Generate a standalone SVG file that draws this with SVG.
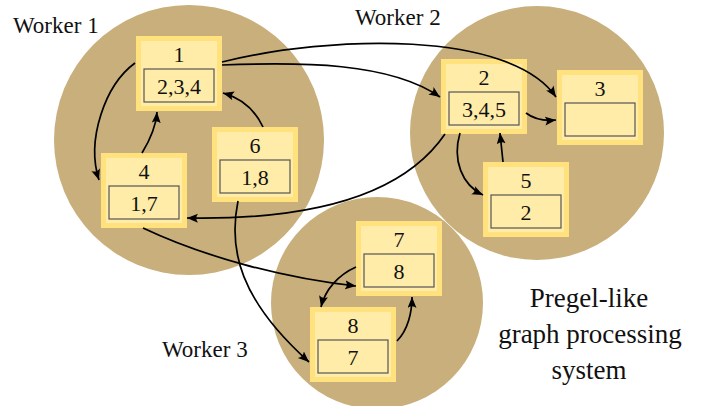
<svg xmlns="http://www.w3.org/2000/svg" width="710" height="406" viewBox="0 0 710 406">
<style>
text{font-family:"Liberation Serif","Times New Roman",serif;fill:#111}
.worker{fill:#C8AF7B}
.wl{font-size:23px}
.outer{fill:#FFE17D}
.inner{fill:#FFECA8}
.val{fill:#FFECA8;stroke:#555;stroke-width:1.2}
.t{font-size:22px;text-anchor:middle}
.cap{font-size:27px;text-anchor:middle}
.e{fill:none;stroke:#000;stroke-width:1.7;marker-end:url(#ah)}
</style>
<defs>
<marker id="ah" markerUnits="userSpaceOnUse" markerWidth="13" markerHeight="10" refX="11" refY="4.5" orient="auto">
<path d="M0,0 L11,4.5 L0,9 Q3.5,4.5 0,0 Z" fill="#000"/>
</marker>
</defs>
<g id="workers">
<circle class="worker" cx="189" cy="140" r="135"/>
<circle class="worker" cx="537" cy="133" r="127"/>
<circle class="worker" cx="377" cy="303" r="106"/>
<text class="wl" x="13" y="33">Worker 1</text>
<text class="wl" x="355" y="25">Worker 2</text>
<text class="wl" x="162" y="357">Worker 3</text>
</g>
<g id="n1" transform="translate(136,36)">
<rect class="outer" width="86" height="75"/><rect class="inner" x="5" y="5" width="76" height="65"/>
<rect class="val" x="8" y="33" width="70" height="33"/>
<text class="t" x="43" y="26">1</text><text class="t" x="43" y="58">2,3,4</text>
</g>
<g id="n2" transform="translate(441,59)">
<rect class="outer" width="86" height="75"/><rect class="inner" x="5" y="5" width="76" height="65"/>
<rect class="val" x="8" y="33" width="70" height="33"/>
<text class="t" x="43" y="26">2</text><text class="t" x="43" y="58">3,4,5</text>
</g>
<g id="n3" transform="translate(557,70)">
<rect class="outer" width="86" height="75"/><rect class="inner" x="5" y="5" width="76" height="65"/>
<rect class="val" x="8" y="33" width="70" height="33"/>
<text class="t" x="43" y="26">3</text>
</g>
<g id="n4" transform="translate(101,153)">
<rect class="outer" width="86" height="75"/><rect class="inner" x="5" y="5" width="76" height="65"/>
<rect class="val" x="8" y="33" width="70" height="33"/>
<text class="t" x="43" y="26">4</text><text class="t" x="43" y="58">1,7</text>
</g>
<g id="n5" transform="translate(483,162)">
<rect class="outer" width="86" height="75"/><rect class="inner" x="5" y="5" width="76" height="65"/>
<rect class="val" x="8" y="33" width="70" height="33"/>
<text class="t" x="43" y="26">5</text><text class="t" x="43" y="58">2</text>
</g>
<g id="n6" transform="translate(212,127)">
<rect class="outer" width="86" height="75"/><rect class="inner" x="5" y="5" width="76" height="65"/>
<rect class="val" x="8" y="33" width="70" height="33"/>
<text class="t" x="43" y="26">6</text><text class="t" x="43" y="58">1,8</text>
</g>
<g id="n7" transform="translate(356,221)">
<rect class="outer" width="86" height="75"/><rect class="inner" x="5" y="5" width="76" height="65"/>
<rect class="val" x="8" y="33" width="70" height="33"/>
<text class="t" x="43" y="26">7</text><text class="t" x="43" y="58">8</text>
</g>
<g id="n8" transform="translate(310,307)">
<rect class="outer" width="86" height="75"/><rect class="inner" x="5" y="5" width="76" height="65"/>
<rect class="val" x="8" y="33" width="70" height="33"/>
<text class="t" x="43" y="26">8</text><text class="t" x="43" y="58">7</text>
</g>
<g id="edges">
<path class="e" d="M135,63 C105,85 86,140 99,180"/>
<path class="e" d="M142,153 C150,140 156,126 157,112"/>
<path class="e" d="M263,127 C255,110 241,98 223,93"/>
<path class="e" d="M222,62 C330,35 510,30 556,97"/>
<path class="e" d="M222,65 C300,62 390,62 440,97"/>
<path class="e" d="M526,113 C535,120 545,121 556,120"/>
<path class="e" d="M460,133 C452,160 462,185 483,195"/>
<path class="e" d="M503,162 C502,152 501,142 500,133"/>
<path class="e" d="M445,134 C400,200 300,220 187,218"/>
<path class="e" d="M143,228 C200,255 280,278 356,286"/>
<path class="e" d="M238,201 C228,250 240,300 309,362"/>
<path class="e" d="M356,267 C338,275 325,290 321,307"/>
<path class="e" d="M397,341 C408,330 412,312 412,297"/>
</g>
<g id="caption">
<text class="cap" x="589" y="307">Pregel-like</text>
<text class="cap" x="590" y="343">graph processing</text>
<text class="cap" x="589" y="379">system</text>
</g>
</svg>
